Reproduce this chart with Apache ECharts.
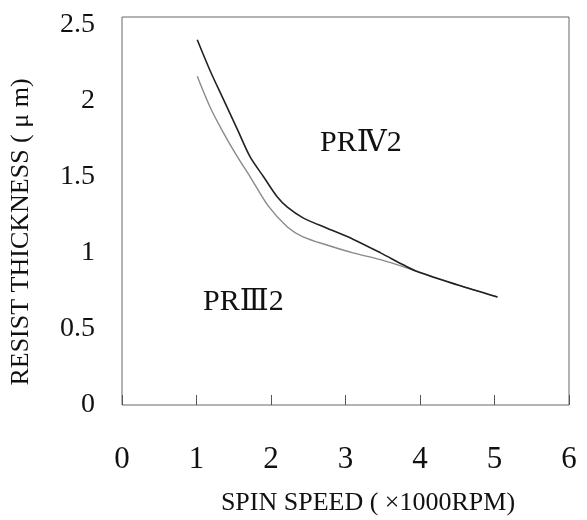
<!DOCTYPE html>
<html>
<head>
<meta charset="utf-8">
<script src="https://cdn.jsdelivr.net/npm/echarts@6/dist/echarts.min.js"></script>
<style>
  html, body { margin: 0; padding: 0; background: #fff; }
  #main { width: 587px; height: 520px; }
</style>
</head>
<body>
<div id="main"></div>
<script>
// PR IV 2 (dark curve)
var speedIV = [1.01, 1.18, 1.36, 1.55, 1.72, 1.90, 2.08, 2.22, 2.43, 2.76, 3.10, 3.47, 3.78, 3.97, 4.5, 5.04];
var thickIV = [2.40, 2.20, 2.01, 1.81, 1.63, 1.50, 1.37, 1.30, 1.23, 1.16, 1.09, 1.00, 0.92, 0.875, 0.79, 0.71];
// PR III 2 (light curve)
var speedIII = [1.01, 1.18, 1.36, 1.55, 1.72, 1.96, 2.22, 2.43, 2.76, 3.10, 3.47, 3.83, 4.5, 5.04];
var thickIII = [2.16, 1.96, 1.79, 1.63, 1.50, 1.31, 1.17, 1.105, 1.05, 1.00, 0.955, 0.90, 0.79, 0.71];

var serif = "'Liberation Serif', 'DejaVu Serif', serif";

function pairs(xs, ys) {
  var out = [];
  for (var i = 0; i < xs.length; i++) {
    out.push([xs[i], ys[i]]);
  }
  return out;
}

var chart = echarts.init(document.getElementById('main'));

var option = {
  backgroundColor: '#fff',
  animation: false,
  grid: {
    left: 122,
    right: 18,
    top: 17,
    bottom: 115,
    show: true,
    borderColor: '#666',
    borderWidth: 1
  },
  xAxis: {
    type: 'value',
    min: 0,
    max: 6,
    interval: 1,
    axisLine: { show: false },
    axisTick: { show: true, inside: true, length: 10, lineStyle: { color: '#555' } },
    splitLine: { show: false },
    axisLabel: { fontFamily: serif, fontSize: 31, color: '#111', margin: 39 }
  },
  yAxis: {
    type: 'value',
    min: 0,
    max: 2.55,
    interval: 0.5,
    axisLine: { show: false },
    axisTick: { show: false },
    splitLine: { show: false },
    axisLabel: { fontFamily: serif, fontSize: 28, color: '#111', margin: 27, showMaxLabel: false }
  },
  graphic: [
    {
      type: 'text',
      x: 368, y: 503,
      style: { text: 'SPIN SPEED ( \u00d71000RPM)', fontFamily: serif, fontSize: 26, fill: '#111',
               align: 'center', verticalAlign: 'middle' }
    },
    {
      type: 'text',
      x: 21, y: 232, rotation: Math.PI / 2,
      style: { text: 'RESIST THICKNESS ( \u03bc m)', fontFamily: serif, fontSize: 26, fill: '#111',
               align: 'center', verticalAlign: 'middle' }
    },
    {
      type: 'text',
      x: 320, y: 143,
      style: { text: 'PR\u21632', fontFamily: serif, fontSize: 30, fill: '#111', verticalAlign: 'middle' }
    },
    {
      type: 'text',
      x: 203, y: 302,
      style: { text: 'PR\u21622', fontFamily: serif, fontSize: 30, fill: '#111', verticalAlign: 'middle' }
    }
  ],
  series: [
    {
      name: 'PRIII2',
      type: 'line',
      smooth: 0.3,
      symbol: 'none',
      data: pairs(speedIII, thickIII),
      lineStyle: { color: '#8a8a8a', width: 1.4 }
    },
    {
      name: 'PRIV2',
      type: 'line',
      smooth: 0.3,
      symbol: 'none',
      data: pairs(speedIV, thickIV),
      lineStyle: { color: '#222', width: 1.6 }
    }
  ]
};

chart.setOption(option);
</script>
</body>
</html>
